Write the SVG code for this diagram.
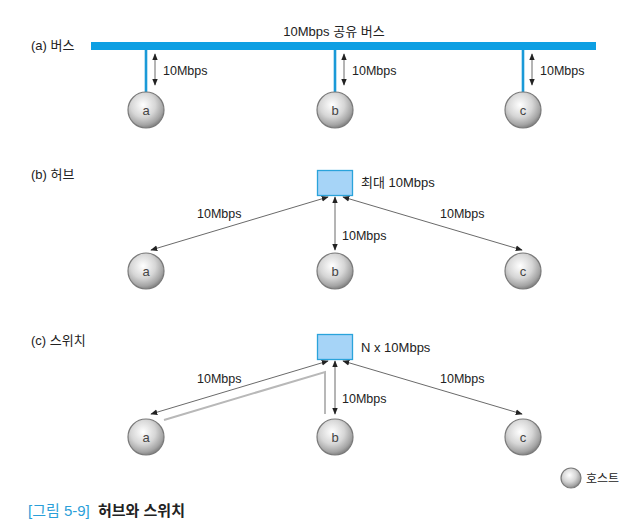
<svg xmlns="http://www.w3.org/2000/svg" width="633" height="527" viewBox="0 0 633 527">
<style>
text{font-family:"Liberation Sans","Noto Sans CJK KR",sans-serif;font-size:13px;fill:#222}
.lbl{font-size:12.5px}
.host{fill:url(#hg);stroke:#7a7a7a;stroke-width:1.2}
.hl{font-size:13px;text-anchor:middle;fill:#444}
.drop{stroke:#1a9ad8;stroke-width:2.6;fill:none}
.link{stroke:#444;stroke-width:0.8;fill:none;marker-start:url(#ah);marker-end:url(#ah)}
.box{fill:#a6d4f7;stroke:#2aa3db;stroke-width:1.3}
.gray{stroke:#b8b8b8;stroke-width:2;fill:none}
</style>
<defs>
<radialGradient id="hg" cx="0.42" cy="0.36" r="0.62">
<stop offset="0" stop-color="#ffffff"/>
<stop offset="0.55" stop-color="#d6d6d6"/>
<stop offset="0.9" stop-color="#a4a4a4"/>
<stop offset="1" stop-color="#8c8c8c"/>
</radialGradient>
<marker id="ah" viewBox="0 0 10 10" refX="9" refY="5" markerWidth="7" markerHeight="7" markerUnits="userSpaceOnUse" orient="auto-start-reverse">
<path d="M0,1 L10,5 L0,9 z" fill="#222"/>
</marker>
</defs>

<!-- section labels -->
<text x="31" y="50">(a) 버스</text>
<text x="31" y="179">(b) 허브</text>
<text x="31" y="345">(c) 스위치</text>
<text x="334" y="36" text-anchor="middle">10Mbps 공유 버스</text>

<!-- (a) bus -->
<g id="bus">
<rect x="91" y="42" width="505" height="8" fill="#0d9fe3"/>
</g>
<g id="connectors">
<line class="drop" x1="146" y1="50" x2="146" y2="93"/>
<line class="drop" x1="335" y1="50" x2="335" y2="93"/>
<line class="drop" x1="523" y1="50" x2="523" y2="93"/>
<line class="link" x1="155" y1="54" x2="155" y2="85"/>
<line class="link" x1="344" y1="54" x2="344" y2="85"/>
<line class="link" x1="532" y1="54" x2="532" y2="85"/>

<!-- hub links -->
<line class="link" x1="328" y1="197" x2="151" y2="250"/>
<line class="link" x1="335" y1="197" x2="335" y2="250"/>
<line class="link" x1="343" y1="197" x2="522" y2="250"/>

<!-- switch links -->
<polyline class="gray" points="164,420 325,372 325,414"/>
<line class="link" x1="328" y1="361" x2="151" y2="414"/>
<line class="link" x1="335" y1="361" x2="335" y2="414"/>
<line class="link" x1="343" y1="361" x2="522" y2="414"/>
</g>

<!-- link labels -->
<text class="lbl" x="163" y="75">10Mbps</text>
<text class="lbl" x="352" y="75">10Mbps</text>
<text class="lbl" x="540" y="75">10Mbps</text>
<text class="lbl" x="197" y="218">10Mbps</text>
<text class="lbl" x="440" y="218">10Mbps</text>
<text class="lbl" x="342" y="240">10Mbps</text>
<text class="lbl" x="197" y="383">10Mbps</text>
<text class="lbl" x="440" y="383">10Mbps</text>
<text class="lbl" x="342" y="403">10Mbps</text>

<!-- bus hosts -->
<g id="bus-a"><circle class="host" cx="146" cy="110" r="18"/><text class="hl" x="146" y="115">a</text></g>
<g id="bus-b"><circle class="host" cx="335" cy="110" r="18"/><text class="hl" x="335" y="115">b</text></g>
<g id="bus-c"><circle class="host" cx="523" cy="110" r="18"/><text class="hl" x="523" y="115">c</text></g>

<!-- hub -->
<g id="hub"><rect class="box" x="317.5" y="170.5" width="35" height="25"/><text x="361" y="187">최대 10Mbps</text></g>
<g id="hub-a"><circle class="host" cx="146" cy="271" r="18"/><text class="hl" x="146" y="276">a</text></g>
<g id="hub-b"><circle class="host" cx="335" cy="271" r="18"/><text class="hl" x="335" y="276">b</text></g>
<g id="hub-c"><circle class="host" cx="523" cy="271" r="18"/><text class="hl" x="523" y="276">c</text></g>

<!-- switch -->
<g id="switch"><rect class="box" x="317.5" y="334.5" width="35" height="25"/><text x="361" y="352">N x 10Mbps</text></g>
<g id="sw-a"><circle class="host" cx="146" cy="437" r="18"/><text class="hl" x="146" y="442">a</text></g>
<g id="sw-b"><circle class="host" cx="335" cy="437" r="18"/><text class="hl" x="335" y="442">b</text></g>
<g id="sw-c"><circle class="host" cx="523" cy="437" r="18"/><text class="hl" x="523" y="442">c</text></g>

<!-- legend -->
<g id="legend"><circle class="host" cx="571" cy="478" r="10"/><text x="586" y="483" style="font-size:12px">호스트</text></g>

<!-- caption -->
<text x="28" y="516" style="font-size:15px;fill:#2b9fd9">[그림 5-9]</text>
<text x="98" y="516" style="font-size:15px;font-weight:bold;fill:#222">허브와 스위치</text>
</svg>
